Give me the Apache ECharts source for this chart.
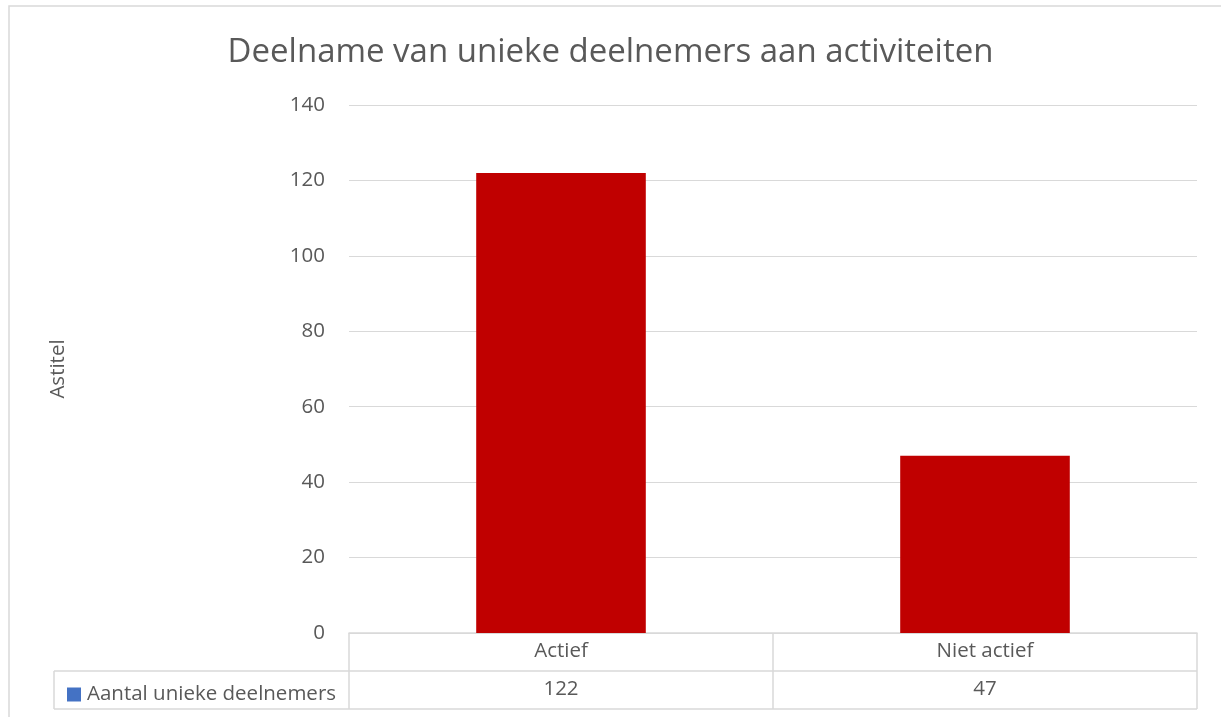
<!DOCTYPE html>
<html>
<head>
<meta charset="utf-8">
<script src="https://cdn.jsdelivr.net/npm/echarts@6/dist/echarts.min.js"></script>
<style>html,body{margin:0;padding:0;background:#fff;}#c{width:1221px;height:717px;}</style>
</head>
<body>
<div id="c"></div>
<script>
const titleText = 'Deelname van unieke deelnemers aan activiteiten';
const categories = ['Actief', 'Niet actief'];
const seriesName = 'Aantal unieke deelnemers';
const values = [122, 47];
const yTicks = { min: 0, max: 140, interval: 20 };
const yAxisTitle = 'Astitel';

const W = 1221, H = 717;
const G = { left: 349, right: 24, top: 105, bottom: 84 };
const rowH = 38;
const tableLeft = 54;
const lineColor = '#d9d9d9';
const textColor = '#595959';
const font = '"Open Sans", "Noto Sans", sans-serif';

const gx0 = G.left, gx1 = W - G.right, gy = H - G.bottom;
const catW = (gx1 - gx0) / categories.length;
const lines = [];
function seg(x1, y1, x2, y2) {
  lines.push({ type: 'line', silent: true, shape: { x1, y1, x2, y2 }, style: { stroke: lineColor, lineWidth: 1.5 } });
}
seg(tableLeft, gy + rowH, gx1, gy + rowH);
seg(tableLeft, gy + 2 * rowH, gx1, gy + 2 * rowH);
seg(tableLeft, gy + rowH, tableLeft, gy + 2 * rowH);
for (let i = 0; i <= categories.length; i++) {
  const x = gx0 + i * catW;
  seg(x, gy, x, gy + 2 * rowH);
}
lines.push({ type: 'rect', silent: true, shape: { x: 9, y: 6, width: 1400, height: 900 }, style: { fill: 'none', stroke: lineColor, lineWidth: 1.5 } });

const chart = echarts.init(document.getElementById('c'));
chart.setOption({
  backgroundColor: '#fff',
  animation: false,
  title: {
    text: titleText, left: 'center', top: 31,
    textStyle: { fontFamily: font, fontSize: 33, fontWeight: 'normal', color: textColor }
  },
  legend: {
    data: [seriesName], left: 62, top: gy + rowH + 8, itemGap: 6,
    icon: 'rect', itemWidth: 14, itemHeight: 14,
    textStyle: { fontFamily: font, fontSize: 20.5, color: textColor, padding: [0, 0, 0, 1] }
  },
  grid: { left: G.left, right: G.right, top: G.top, bottom: G.bottom, containLabel: false },
  xAxis: [
    {
      type: 'category', data: categories, position: 'bottom',
      axisLine: { show: true, lineStyle: { color: lineColor, width: 1.5 } },
      axisTick: { show: false },
      axisLabel: { margin: 8, fontFamily: font, fontSize: 20.5, color: textColor }
    },
    {
      type: 'category', data: values.map(String), position: 'bottom', offset: rowH,
      axisLine: { show: false }, axisTick: { show: false },
      axisLabel: { margin: 8, fontFamily: font, fontSize: 20.5, color: textColor }
    }
  ],
  yAxis: {
    type: 'value', min: yTicks.min, max: yTicks.max, interval: yTicks.interval,
    name: yAxisTitle, nameLocation: 'middle', nameRotate: 90, nameGap: 280,
    nameTextStyle: { fontFamily: font, fontSize: 20.5, color: textColor },
    axisLine: { show: false }, axisTick: { show: false },
    axisLabel: { margin: 24, fontFamily: font, fontSize: 20.5, color: textColor },
    splitLine: { lineStyle: { color: lineColor, width: 1 } }
  },
  series: [{
    name: seriesName, type: 'bar', xAxisIndex: 0,
    barCategoryGap: '60%',
    itemStyle: { color: '#4472C4' },
    data: values.map(v => ({ value: v, itemStyle: { color: '#C00000' } }))
  }],
  graphic: lines
});
</script>
</body>
</html>
